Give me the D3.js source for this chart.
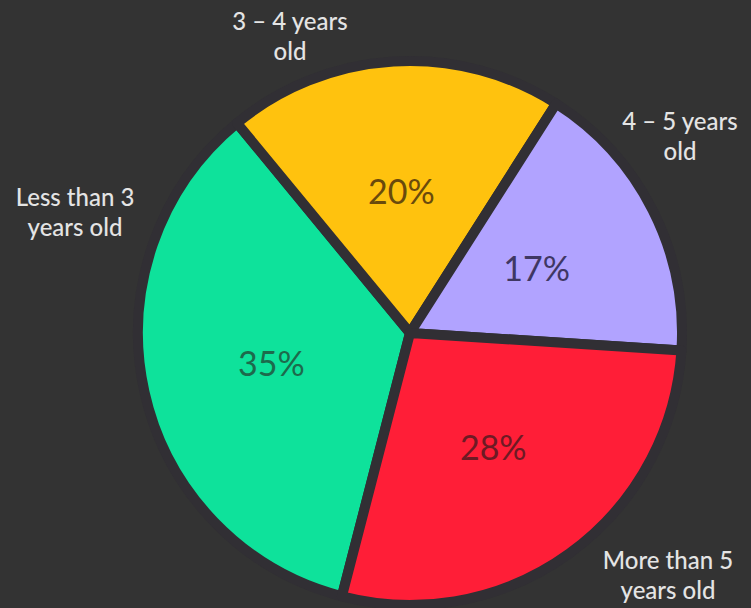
<!DOCTYPE html>
<html>
<head>
<meta charset="utf-8">
<script src="https://cdn.jsdelivr.net/npm/d3@7"></script>
<style>
  html, body { margin: 0; padding: 0; background: #333333; }
  svg { display: block; }
</style>
</head>
<body>
<svg id="chart" width="751" height="608"></svg>
<script>
// Age groups and their share of the total (percent)
const categories = ["Less than 3 years old", "3 – 4 years old", "4 – 5 years old", "More than 5 years old"];
const values = [35, 20, 17, 28];
const colors = ["#0ee29b", "#ffc20e", "#b1a3ff", "#ff1e37"];
const valueTextColors = ["#1d6a4c", "#6a4a0c", "#3f3763", "#6e1a24"];
// Outer label lines for each category
const labelLines = [["Less than 3", "years old"], ["3 – 4 years", "old"], ["4 – 5 years", "old"], ["More than 5", "years old"]];
// Outer label anchor offsets from the pie centre
const labelOffsets = [[-335, -120], [-120, -296], [270, -196], [258, 243]];

const W = 751, H = 608;
const cx = 410, cy = 333, R = 272;

const svg = d3.select("#chart");
svg.append("rect").attr("width", W).attr("height", H).attr("fill", "#333333");

const g = svg.append("g").attr("transform", `translate(${cx},${cy})`);

const startDeg = -165.5;
const pie = d3.pie().sort(null).value(d => d)
  .startAngle(startDeg * Math.PI / 180)
  .endAngle((startDeg + 360) * Math.PI / 180);
const arcs = pie(values);

const arc = d3.arc().innerRadius(0).outerRadius(R);
const labelArc = d3.arc().innerRadius(142).outerRadius(142);

g.selectAll("path.slice")
  .data(arcs)
  .join("path")
  .attr("class", "slice")
  .attr("d", arc)
  .attr("fill", (d, i) => colors[i])
  .attr("stroke", "#312f34")
  .attr("stroke-width", 10)
  .attr("stroke-linejoin", "round");

g.selectAll("text.value")
  .data(arcs)
  .join("text")
  .attr("class", "value")
  .attr("transform", d => `translate(${labelArc.centroid(d)})`)
  .attr("text-anchor", "middle")
  .attr("dy", "0.36em")
  .attr("font-family", "Lato, 'Open Sans', sans-serif")
  .attr("font-size", 34)
  .attr("fill", (d, i) => valueTextColors[i])
  .text((d, i) => values[i] + "%");

const outer = g.selectAll("text.cat")
  .data(arcs)
  .join("text")
  .attr("class", "cat")
  .attr("x", (d, i) => labelOffsets[i][0])
  .attr("y", (d, i) => labelOffsets[i][1] - 15)
  .attr("text-anchor", "middle")
  .attr("font-family", "Lato, 'Open Sans', sans-serif")
  .attr("font-size", 24)
  .attr("font-weight", 500)
  .attr("fill", "#e4e4e4");

outer.each(function(d, i) {
  const t = d3.select(this);
  labelLines[i].forEach((line, k) => {
    t.append("tspan")
      .attr("x", labelOffsets[i][0])
      .attr("dy", k === 0 ? "0.35em" : "1.25em")
      .text(line);
  });
});
</script>
</body>
</html>
